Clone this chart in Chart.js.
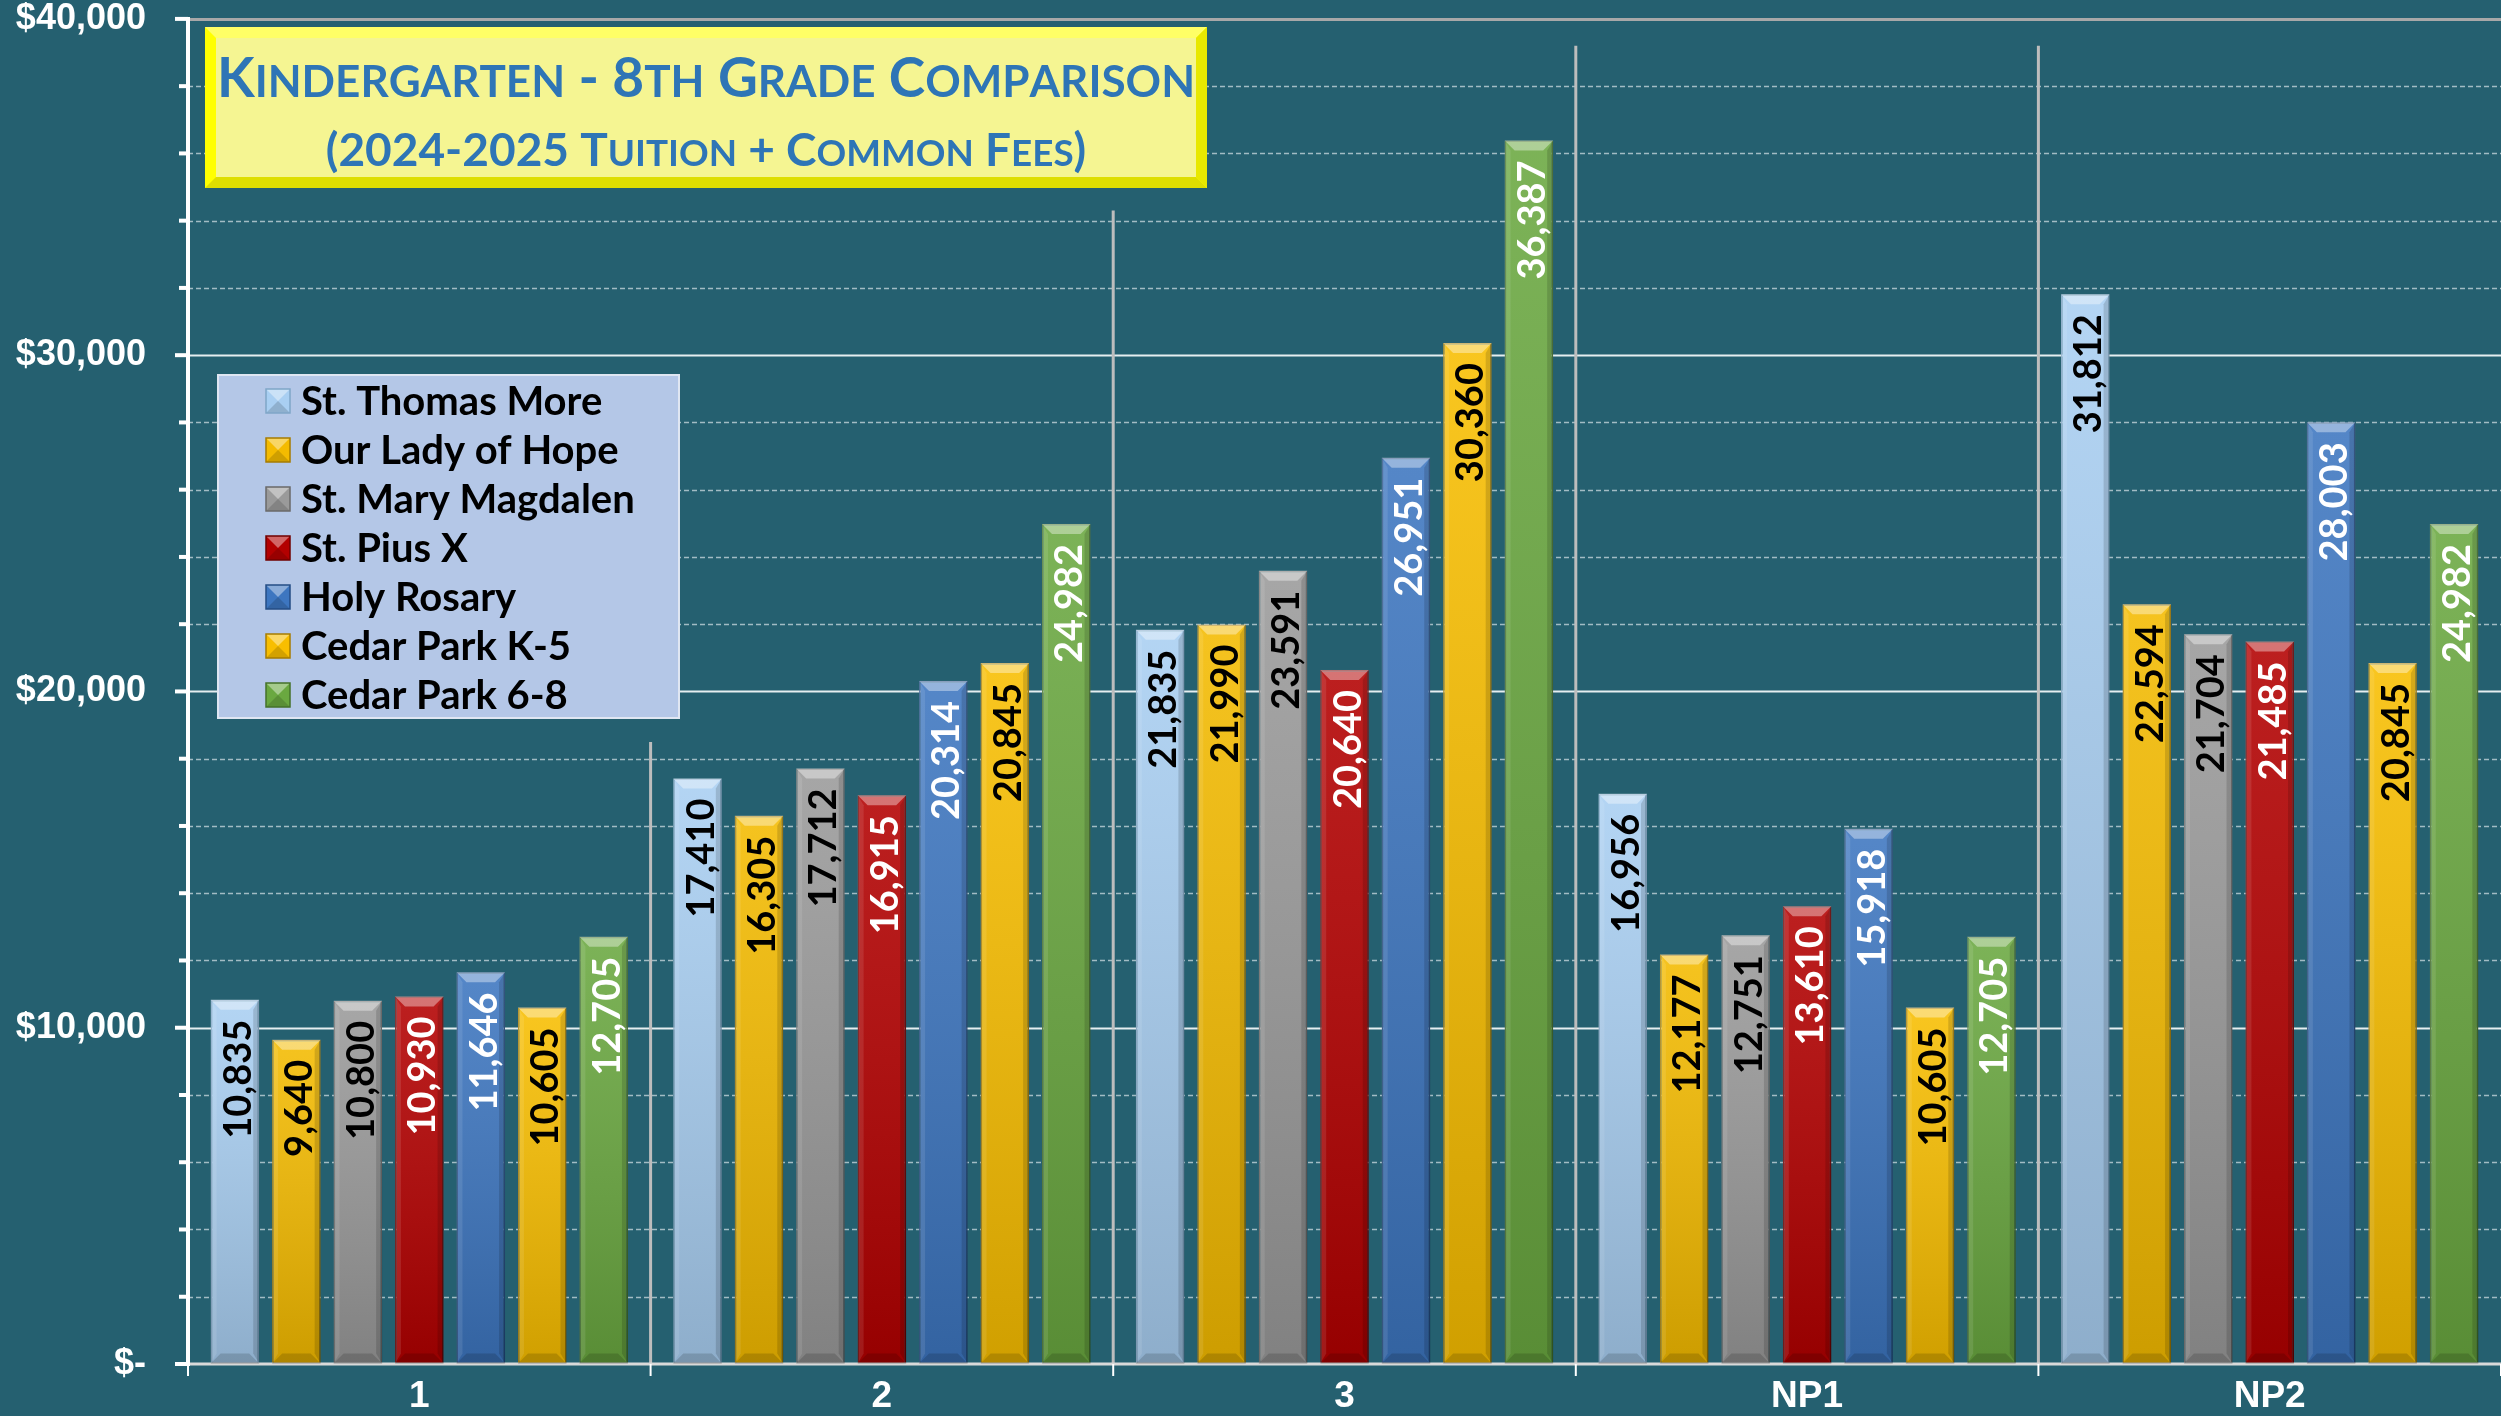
<!DOCTYPE html>
<html>
<head>
<meta charset="utf-8">
<script src="https://cdn.jsdelivr.net/npm/chart.js@4.4.0/dist/chart.umd.min.js"></script>
<style>
html,body{margin:0;padding:0;background:#256070;overflow:hidden}
#wrap{position:relative;width:2501px;height:1416px}
</style>
</head>
<body>
<div id="wrap"><canvas id="c" width="2501" height="1416"></canvas></div>
<script>
// ---------- DATA ----------
const categories = ['1', '2', '3', 'NP1', 'NP2'];
const seriesNames = ['St. Thomas More', 'Our Lady of Hope', 'St. Mary Magdalen', 'St. Pius X', 'Holy Rosary', 'Cedar Park K-5', 'Cedar Park 6-8'];
const stThomasMore   = [10835, 17410, 21835, 16956, 31812];
const ourLadyOfHope  = [9640, 16305, 21990, 12177, 22594];
const stMaryMagdalen = [10800, 17712, 23591, 12751, 21704];
const stPiusX        = [10930, 16915, 20640, 13610, 21485];
const holyRosary     = [11646, 20314, 26951, 15918, 28003];
const cedarParkK5    = [10605, 20845, 30360, 10605, 20845];
const cedarPark68    = [12705, 24982, 36387, 12705, 24982];
const yMin = 0, yMax = 40000, yStep = 2000, yMajor = 10000;
const dividerTops = [18500, 34300, 39200, 39200];
const titleLines = ['Kindergarten - 8th Grade Comparison', '(2024-2025 Tuition + Common Fees)'];

// ---------- STYLE ----------
const seriesData = [stThomasMore, ourLadyOfHope, stMaryMagdalen, stPiusX, holyRosary, cedarParkK5, cedarPark68];
const barColors  = ['#a9cff2', '#f4bb00', '#9a9a9a', '#b30000', '#3d76c0', '#f8be00', '#6aa840'];
const edgeColors = ['#7fa6c8', '#a67c00', '#6a6a6a', '#700000', '#244d85', '#a67c00', '#44722a'];
const labelColors = ['#000', '#000', '#000', '#fff', '#fff', '#000', '#fff'];
const BG = '#256070';
const axisFont = "'Liberation Sans', Arial, sans-serif";
const labelFont = "Lato, 'Open Sans', sans-serif";

function fmt(v) { return v.toLocaleString('en-US'); }

const bgPlugin = {
  id: 'bg',
  beforeDraw(chart) {
    const c = chart.ctx;
    c.save(); c.fillStyle = BG; c.fillRect(0, 0, chart.width, chart.height); c.restore();
  }
};

const gridPlugin = {
  id: 'grid',
  beforeDatasetsDraw(chart) {
    const c = chart.ctx, a = chart.chartArea, y = chart.scales.y, x = chart.scales.x;
    c.save();
    y.ticks.forEach(t => {
      const py = Math.round(y.getPixelForValue(t.value)) + 0.5;
      c.beginPath();
      if (t.value === yMax) { c.strokeStyle = '#a8a8a8'; c.lineWidth = 3; c.setLineDash([]); }
      else if (t.value % yMajor === 0) { c.strokeStyle = '#e6eef0'; c.lineWidth = 2; c.setLineDash([]); }
      else { c.strokeStyle = 'rgba(215,228,232,0.7)'; c.lineWidth = 1.3; c.setLineDash([5, 3]); }
      if (t.value !== yMin) { c.moveTo(a.left, py); c.lineTo(a.right, py); c.stroke(); }
    });
    c.setLineDash([]);
    c.strokeStyle = '#bdbdbd'; c.lineWidth = 3;
    dividerTops.forEach((v, i) => {
      const bx = (x.getPixelForValue(i) + x.getPixelForValue(i + 1)) / 2;
      c.beginPath(); c.moveTo(bx, y.getPixelForValue(v)); c.lineTo(bx, a.bottom); c.stroke();
    });
    c.restore();
  },
  afterDatasetsDraw(chart) {
    const c = chart.ctx, a = chart.chartArea, y = chart.scales.y, x = chart.scales.x;
    c.save();
    c.strokeStyle = '#d9d9d9'; c.lineWidth = 3;
    c.beginPath(); c.moveTo(a.left, a.bottom); c.lineTo(a.right, a.bottom); c.stroke();
    const step = x.getPixelForValue(1) - x.getPixelForValue(0);
    c.strokeStyle = '#ffffff'; c.lineWidth = 2;
    for (let i = 0; i <= categories.length; i++) {
      const bx = x.getPixelForValue(0) - step / 2 + i * step;
      c.beginPath(); c.moveTo(bx, a.bottom); c.lineTo(bx, a.bottom + 12); c.stroke();
    }
    c.strokeStyle = '#ffffff'; c.lineWidth = 4;
    c.beginPath(); c.moveTo(a.left, a.top - 2); c.lineTo(a.left, a.bottom + 2); c.stroke();
    y.ticks.forEach(t => {
      const py = y.getPixelForValue(t.value);
      const len = t.value % yMajor === 0 ? 13 : 9;
      c.beginPath(); c.moveTo(a.left - len, py); c.lineTo(a.left, py); c.stroke();
    });
    c.restore();
  }
};

const barPlugin = {
  id: 'barDeco',
  afterDatasetsDraw(chart) {
    const c = chart.ctx;
    c.save();
    chart.data.datasets.forEach((ds, di) => {
      const meta = chart.getDatasetMeta(di);
      meta.data.forEach((el, j) => {
        const L = el.x - el.width / 2, R = el.x + el.width / 2, T = el.y, B = el.base;
        const b = 10;
        const g = c.createLinearGradient(0, T, 0, B);
        g.addColorStop(0, 'rgba(255,255,255,0.12)');
        g.addColorStop(1, 'rgba(0,0,0,0.16)');
        c.fillStyle = g; c.fillRect(L, T, R - L, B - T);
        c.fillStyle = 'rgba(255,255,255,0.38)';
        c.beginPath(); c.moveTo(L, T); c.lineTo(R, T); c.lineTo(R - b, T + b); c.lineTo(L + b, T + b); c.closePath(); c.fill();
        c.fillStyle = 'rgba(255,255,255,0.10)';
        c.beginPath(); c.moveTo(L, T); c.lineTo(L + b * 0.6, T + b); c.lineTo(L + b * 0.6, B - b); c.lineTo(L, B); c.closePath(); c.fill();
        c.fillStyle = 'rgba(0,0,0,0.14)';
        c.beginPath(); c.moveTo(R, T); c.lineTo(R - b * 0.6, T + b); c.lineTo(R - b * 0.6, B - b); c.lineTo(R, B); c.closePath(); c.fill();
        c.fillStyle = 'rgba(0,0,0,0.15)';
        c.beginPath(); c.moveTo(L, B); c.lineTo(R, B); c.lineTo(R - b, B - b); c.lineTo(L + b, B - b); c.closePath(); c.fill();
        const v = ds.data[j];
        c.save();
        c.translate(el.x, T + 20);
        c.rotate(-Math.PI / 2);
        c.font = `bold 38px ${labelFont}`;
        c.textAlign = 'right';
        c.textBaseline = 'alphabetic';
        c.fillStyle = labelColors[di];
        c.fillText(fmt(v), 0, 16);
        c.restore();
      });
    });
    c.restore();
  }
};

function drawSmallCaps(c, text, cx, baseline, size, ratio, family) {
  const parts = [];
  for (const ch of text) {
    const small = ch !== ch.toUpperCase();
    parts.push({ t: small ? ch.toUpperCase() : ch, s: small ? size * ratio : size });
  }
  let total = 0;
  parts.forEach(p => { c.font = `bold ${p.s}px ${family}`; p.w = c.measureText(p.t).width; total += p.w; });
  let xx = cx - total / 2;
  c.textAlign = 'left'; c.textBaseline = 'alphabetic';
  parts.forEach(p => { c.font = `bold ${p.s}px ${family}`; c.fillText(p.t, xx, baseline); xx += p.w; });
}

const overlayPlugin = {
  id: 'overlay',
  afterDraw(chart) {
    const c = chart.ctx;
    c.save();
    const tx0 = 205, ty0 = 27, tx1 = 1207, ty1 = 188, tb = 11;
    c.fillStyle = '#ffff00'; c.fillRect(tx0, ty0, tx1 - tx0, ty1 - ty0);
    c.fillStyle = '#ffff66';
    c.beginPath(); c.moveTo(tx0, ty0); c.lineTo(tx1, ty0); c.lineTo(tx1 - tb, ty0 + tb); c.lineTo(tx0 + tb, ty0 + tb); c.closePath(); c.fill();
    c.fillStyle = '#dede00';
    c.beginPath(); c.moveTo(tx0, ty1); c.lineTo(tx1, ty1); c.lineTo(tx1 - tb, ty1 - tb); c.lineTo(tx0 + tb, ty1 - tb); c.closePath(); c.fill();
    c.fillStyle = '#e8e800';
    c.beginPath(); c.moveTo(tx1, ty0); c.lineTo(tx1, ty1); c.lineTo(tx1 - tb, ty1 - tb); c.lineTo(tx1 - tb, ty0 + tb); c.closePath(); c.fill();
    c.fillStyle = '#f5f592'; c.fillRect(tx0 + tb, ty0 + tb, tx1 - tx0 - 2 * tb, ty1 - ty0 - 2 * tb);
    c.fillStyle = '#2e75b6';
    const tcx = (tx0 + tx1) / 2;
    drawSmallCaps(c, titleLines[0], tcx, 97, 55, 0.8, labelFont);
    drawSmallCaps(c, titleLines[1], tcx, 166, 46, 0.8, labelFont);

    const lx0 = 218, ly0 = 375, lx1 = 679, ly1 = 718;
    c.fillStyle = '#b4c7e7'; c.fillRect(lx0, ly0, lx1 - lx0, ly1 - ly0);
    c.strokeStyle = '#dfe6f2'; c.lineWidth = 2; c.strokeRect(lx0, ly0, lx1 - lx0, ly1 - ly0);
    seriesNames.forEach((name, i) => {
      const cy = 401 + i * 49;
      const mx = 266, ms = 24, my = cy - ms / 2;
      c.fillStyle = barColors[i]; c.fillRect(mx, my, ms, ms);
      c.fillStyle = 'rgba(255,255,255,0.4)';
      c.beginPath(); c.moveTo(mx, my); c.lineTo(mx + ms, my); c.lineTo(mx + ms / 2, my + ms / 2); c.closePath(); c.fill();
      c.fillStyle = 'rgba(0,0,0,0.15)';
      c.beginPath(); c.moveTo(mx, my + ms); c.lineTo(mx + ms, my + ms); c.lineTo(mx + ms / 2, my + ms / 2); c.closePath(); c.fill();
      c.strokeStyle = edgeColors[i]; c.lineWidth = 1.5; c.strokeRect(mx, my, ms, ms);
      c.fillStyle = '#000';
      c.font = `bold 40px ${labelFont}`;
      c.textAlign = 'left'; c.textBaseline = 'middle';
      c.fillText(name, 301, cy + 1);
    });
    c.restore();
  }
};

const ctx = document.getElementById('c').getContext('2d');
new Chart(ctx, {
  type: 'bar',
  data: {
    labels: categories,
    datasets: seriesData.map((d, i) => ({
      label: seriesNames[i],
      data: d,
      backgroundColor: barColors[i],
      borderColor: edgeColors[i],
      borderWidth: 1.5,
      categoryPercentage: 0.93,
      barPercentage: 0.79
    }))
  },
  options: {
    responsive: false,
    animation: false,
    devicePixelRatio: 1,
    layout: { padding: { top: 0, right: 0, left: 0, bottom: 0 } },
    plugins: { legend: { display: false }, title: { display: false }, tooltip: { enabled: false } },
    scales: {
      x: {
        grid: { display: true, drawOnChartArea: false, drawTicks: true, tickLength: 14, color: 'transparent', tickColor: 'transparent' },
        border: { display: false },
        ticks: { color: '#ffffff', font: { family: axisFont, weight: 'bold', size: 37, lineHeight: 1.0 }, padding: 0 },
        afterFit(s) { s.height = 52; }
      },
      y: {
        min: yMin, max: yMax,
        grid: { display: true, drawOnChartArea: false, drawTicks: true, tickLength: 42, color: 'transparent', tickColor: 'transparent' },
        border: { display: false },
        ticks: {
          stepSize: yStep, autoSkip: false, color: '#ffffff', padding: 0,
          font: { family: axisFont, weight: 'bold', size: 36, lineHeight: 1.05 },
          callback: v => v % yMajor === 0 ? (v === 0 ? '$-' : '$' + fmt(v)) : ''
        },
        afterFit(s) { s.width = 188; }
      }
    }
  },
  plugins: [bgPlugin, gridPlugin, barPlugin, overlayPlugin]
});
</script>
</body>
</html>
